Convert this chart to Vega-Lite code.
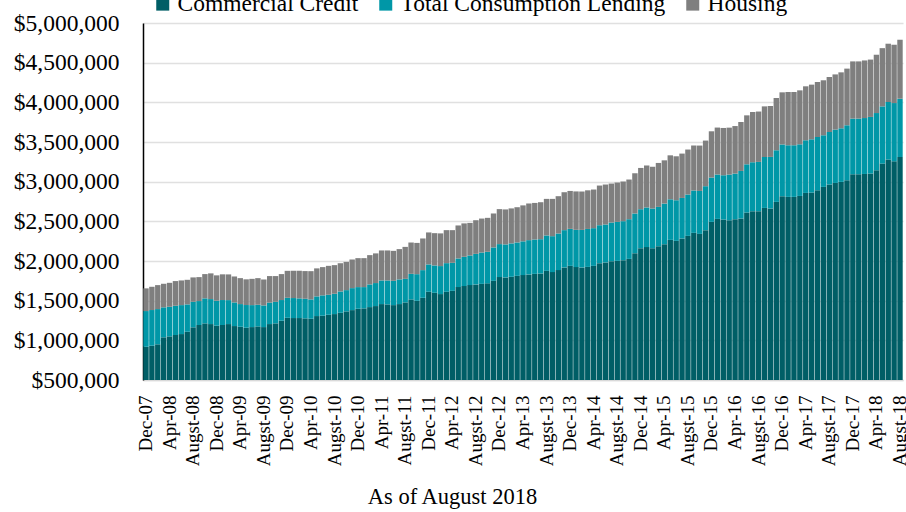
{
  "$schema": "https://vega.github.io/schema/vega-lite/v6.json",
  "width": 760,
  "height": 357,
  "autosize": {"type": "none"},
  "padding": {"left": 143, "top": 23, "right": 3, "bottom": 132},
  "background": "white",
  "config": {"view": {"stroke": null}, "font": "Liberation Serif"},
  "data": {"values": [
    {"m":"Dec-07","Commercial Credit":919000,"Total Consumption Lending":450000,"Housing":286000},
    {"m":"Jan-08","Commercial Credit":932000,"Total Consumption Lending":450000,"Housing":293000},
    {"m":"Feb-08","Commercial Credit":950000,"Total Consumption Lending":444000,"Housing":302000},
    {"m":"Mar-08","Commercial Credit":1038000,"Total Consumption Lending":378000,"Housing":297000},
    {"m":"Apr-08","Commercial Credit":1050000,"Total Consumption Lending":373000,"Housing":302000},
    {"m":"May-08","Commercial Credit":1067000,"Total Consumption Lending":369000,"Housing":311000},
    {"m":"Jun-08","Commercial Credit":1079000,"Total Consumption Lending":365000,"Housing":311000},
    {"m":"Jul-08","Commercial Credit":1108000,"Total Consumption Lending":345000,"Housing":310000},
    {"m":"Augst-08","Commercial Credit":1164000,"Total Consumption Lending":322000,"Housing":307000},
    {"m":"Sep-08","Commercial Credit":1193000,"Total Consumption Lending":302000,"Housing":302000},
    {"m":"Oct-08","Commercial Credit":1214000,"Total Consumption Lending":315000,"Housing":306000},
    {"m":"Nov-08","Commercial Credit":1205000,"Total Consumption Lending":315000,"Housing":324000},
    {"m":"Dec-08","Commercial Credit":1184000,"Total Consumption Lending":315000,"Housing":320000},
    {"m":"Jan-09","Commercial Credit":1193000,"Total Consumption Lending":315000,"Housing":324000},
    {"m":"Feb-09","Commercial Credit":1205000,"Total Consumption Lending":302000,"Housing":324000},
    {"m":"Mar-09","Commercial Credit":1180000,"Total Consumption Lending":298000,"Housing":327000},
    {"m":"Apr-09","Commercial Credit":1171000,"Total Consumption Lending":286000,"Housing":327000},
    {"m":"May-09","Commercial Credit":1159000,"Total Consumption Lending":286000,"Housing":324000},
    {"m":"Jun-09","Commercial Credit":1167000,"Total Consumption Lending":277000,"Housing":331000},
    {"m":"Jul-09","Commercial Credit":1176000,"Total Consumption Lending":272000,"Housing":336000},
    {"m":"Augst-09","Commercial Credit":1167000,"Total Consumption Lending":273000,"Housing":327000},
    {"m":"Sep-09","Commercial Credit":1205000,"Total Consumption Lending":271000,"Housing":334000},
    {"m":"Oct-09","Commercial Credit":1214000,"Total Consumption Lending":272000,"Housing":324000},
    {"m":"Nov-09","Commercial Credit":1247000,"Total Consumption Lending":261000,"Housing":327000},
    {"m":"Dec-09","Commercial Credit":1284000,"Total Consumption Lending":252000,"Housing":340000},
    {"m":"Jan-10","Commercial Credit":1281000,"Total Consumption Lending":252000,"Housing":344000},
    {"m":"Feb-10","Commercial Credit":1281000,"Total Consumption Lending":248000,"Housing":348000},
    {"m":"Mar-10","Commercial Credit":1277000,"Total Consumption Lending":247000,"Housing":349000},
    {"m":"Apr-10","Commercial Credit":1272000,"Total Consumption Lending":244000,"Housing":356000},
    {"m":"May-10","Commercial Credit":1306000,"Total Consumption Lending":248000,"Housing":353000},
    {"m":"Jun-10","Commercial Credit":1310000,"Total Consumption Lending":257000,"Housing":356000},
    {"m":"Jul-10","Commercial Credit":1322000,"Total Consumption Lending":252000,"Housing":365000},
    {"m":"Augst-10","Commercial Credit":1331000,"Total Consumption Lending":256000,"Housing":361000},
    {"m":"Sep-10","Commercial Credit":1347000,"Total Consumption Lending":269000,"Housing":356000},
    {"m":"Oct-10","Commercial Credit":1365000,"Total Consumption Lending":268000,"Housing":356000},
    {"m":"Nov-10","Commercial Credit":1381000,"Total Consumption Lending":277000,"Housing":361000},
    {"m":"Dec-10","Commercial Credit":1398000,"Total Consumption Lending":273000,"Housing":365000},
    {"m":"Jan-11","Commercial Credit":1403000,"Total Consumption Lending":268000,"Housing":365000},
    {"m":"Feb-11","Commercial Credit":1419000,"Total Consumption Lending":286000,"Housing":369000},
    {"m":"Mar-11","Commercial Credit":1432000,"Total Consumption Lending":290000,"Housing":374000},
    {"m":"Apr-11","Commercial Credit":1457000,"Total Consumption Lending":298000,"Housing":378000},
    {"m":"May-11","Commercial Credit":1453000,"Total Consumption Lending":302000,"Housing":378000},
    {"m":"Jun-11","Commercial Credit":1444000,"Total Consumption Lending":306000,"Housing":378000},
    {"m":"Jul-11","Commercial Credit":1457000,"Total Consumption Lending":311000,"Housing":382000},
    {"m":"Augst-11","Commercial Credit":1478000,"Total Consumption Lending":297000,"Housing":403000},
    {"m":"Sep-11","Commercial Credit":1516000,"Total Consumption Lending":322000,"Housing":395000},
    {"m":"Oct-11","Commercial Credit":1498000,"Total Consumption Lending":336000,"Housing":394000},
    {"m":"Nov-11","Commercial Credit":1536000,"Total Consumption Lending":349000,"Housing":399000},
    {"m":"Dec-11","Commercial Credit":1612000,"Total Consumption Lending":345000,"Housing":403000},
    {"m":"Jan-12","Commercial Credit":1599000,"Total Consumption Lending":345000,"Housing":407000},
    {"m":"Feb-12","Commercial Credit":1583000,"Total Consumption Lending":353000,"Housing":412000},
    {"m":"Mar-12","Commercial Credit":1612000,"Total Consumption Lending":361000,"Housing":416000},
    {"m":"Apr-12","Commercial Credit":1624000,"Total Consumption Lending":353000,"Housing":412000},
    {"m":"May-12","Commercial Credit":1671000,"Total Consumption Lending":361000,"Housing":416000},
    {"m":"Jun-12","Commercial Credit":1684000,"Total Consumption Lending":369000,"Housing":421000},
    {"m":"Jul-12","Commercial Credit":1696000,"Total Consumption Lending":374000,"Housing":410000},
    {"m":"Augst-12","Commercial Credit":1705000,"Total Consumption Lending":385000,"Housing":424000},
    {"m":"Sep-12","Commercial Credit":1712000,"Total Consumption Lending":395000,"Housing":428000},
    {"m":"Oct-12","Commercial Credit":1718000,"Total Consumption Lending":398000,"Housing":428000},
    {"m":"Nov-12","Commercial Credit":1750000,"Total Consumption Lending":421000,"Housing":428000},
    {"m":"Dec-12","Commercial Credit":1797000,"Total Consumption Lending":416000,"Housing":441000},
    {"m":"Jan-13","Commercial Credit":1793000,"Total Consumption Lending":416000,"Housing":441000},
    {"m":"Feb-13","Commercial Credit":1801000,"Total Consumption Lending":421000,"Housing":441000},
    {"m":"Mar-13","Commercial Credit":1813000,"Total Consumption Lending":421000,"Housing":444000},
    {"m":"Apr-13","Commercial Credit":1822000,"Total Consumption Lending":426000,"Housing":453000},
    {"m":"May-13","Commercial Credit":1831000,"Total Consumption Lending":432000,"Housing":462000},
    {"m":"Jun-13","Commercial Credit":1838000,"Total Consumption Lending":433000,"Housing":461000},
    {"m":"Jul-13","Commercial Credit":1843000,"Total Consumption Lending":432000,"Housing":466000},
    {"m":"Augst-13","Commercial Credit":1876000,"Total Consumption Lending":446000,"Housing":461000},
    {"m":"Sep-13","Commercial Credit":1860000,"Total Consumption Lending":453000,"Housing":470000},
    {"m":"Oct-13","Commercial Credit":1885000,"Total Consumption Lending":462000,"Housing":470000},
    {"m":"Nov-13","Commercial Credit":1919000,"Total Consumption Lending":470000,"Housing":478000},
    {"m":"Dec-13","Commercial Credit":1939000,"Total Consumption Lending":466000,"Housing":478000},
    {"m":"Jan-14","Commercial Credit":1923000,"Total Consumption Lending":470000,"Housing":484000},
    {"m":"Feb-14","Commercial Credit":1919000,"Total Consumption Lending":473000,"Housing":484000},
    {"m":"Mar-14","Commercial Credit":1926000,"Total Consumption Lending":478000,"Housing":487000},
    {"m":"Apr-14","Commercial Credit":1939000,"Total Consumption Lending":475000,"Housing":487000},
    {"m":"May-14","Commercial Credit":1973000,"Total Consumption Lending":478000,"Housing":500000},
    {"m":"Jun-14","Commercial Credit":1982000,"Total Consumption Lending":478000,"Housing":504000},
    {"m":"Jul-14","Commercial Credit":1998000,"Total Consumption Lending":487000,"Housing":491000},
    {"m":"Augst-14","Commercial Credit":2002000,"Total Consumption Lending":491000,"Housing":496000},
    {"m":"Sep-14","Commercial Credit":2011000,"Total Consumption Lending":491000,"Housing":500000},
    {"m":"Oct-14","Commercial Credit":2027000,"Total Consumption Lending":500000,"Housing":500000},
    {"m":"Nov-14","Commercial Credit":2099000,"Total Consumption Lending":500000,"Housing":507000},
    {"m":"Dec-14","Commercial Credit":2162000,"Total Consumption Lending":491000,"Housing":520000},
    {"m":"Jan-15","Commercial Credit":2175000,"Total Consumption Lending":500000,"Housing":529000},
    {"m":"Feb-15","Commercial Credit":2162000,"Total Consumption Lending":500000,"Housing":526000},
    {"m":"Mar-15","Commercial Credit":2187000,"Total Consumption Lending":495000,"Housing":554000},
    {"m":"Apr-15","Commercial Credit":2212000,"Total Consumption Lending":512000,"Housing":545000},
    {"m":"May-15","Commercial Credit":2266000,"Total Consumption Lending":512000,"Housing":554000},
    {"m":"Jun-15","Commercial Credit":2254000,"Total Consumption Lending":512000,"Housing":554000},
    {"m":"Jul-15","Commercial Credit":2284000,"Total Consumption Lending":511000,"Housing":559000},
    {"m":"Augst-15","Commercial Credit":2317000,"Total Consumption Lending":521000,"Housing":567000},
    {"m":"Sep-15","Commercial Credit":2355000,"Total Consumption Lending":534000,"Housing":567000},
    {"m":"Oct-15","Commercial Credit":2342000,"Total Consumption Lending":541000,"Housing":572000},
    {"m":"Nov-15","Commercial Credit":2389000,"Total Consumption Lending":554000,"Housing":575000},
    {"m":"Dec-15","Commercial Credit":2493000,"Total Consumption Lending":559000,"Housing":583000},
    {"m":"Jan-16","Commercial Credit":2531000,"Total Consumption Lending":559000,"Housing":592000},
    {"m":"Feb-16","Commercial Credit":2523000,"Total Consumption Lending":558000,"Housing":596000},
    {"m":"Mar-16","Commercial Credit":2514000,"Total Consumption Lending":575000,"Housing":592000},
    {"m":"Apr-16","Commercial Credit":2527000,"Total Consumption Lending":575000,"Housing":599000},
    {"m":"May-16","Commercial Credit":2536000,"Total Consumption Lending":599000,"Housing":617000},
    {"m":"Jun-16","Commercial Credit":2611000,"Total Consumption Lending":608000,"Housing":617000},
    {"m":"Jul-16","Commercial Credit":2628000,"Total Consumption Lending":617000,"Housing":633000},
    {"m":"Augst-16","Commercial Credit":2628000,"Total Consumption Lending":621000,"Housing":635000},
    {"m":"Sep-16","Commercial Credit":2669000,"Total Consumption Lending":642000,"Housing":638000},
    {"m":"Oct-16","Commercial Credit":2662000,"Total Consumption Lending":650000,"Housing":642000},
    {"m":"Nov-16","Commercial Credit":2745000,"Total Consumption Lending":651000,"Housing":659000},
    {"m":"Dec-16","Commercial Credit":2817000,"Total Consumption Lending":652000,"Housing":657000},
    {"m":"Jan-17","Commercial Credit":2808000,"Total Consumption Lending":651000,"Housing":671000},
    {"m":"Feb-17","Commercial Credit":2808000,"Total Consumption Lending":651000,"Housing":671000},
    {"m":"Mar-17","Commercial Credit":2820000,"Total Consumption Lending":651000,"Housing":680000},
    {"m":"Apr-17","Commercial Credit":2858000,"Total Consumption Lending":664000,"Housing":680000},
    {"m":"May-17","Commercial Credit":2863000,"Total Consumption Lending":671000,"Housing":689000},
    {"m":"Jun-17","Commercial Credit":2892000,"Total Consumption Lending":671000,"Housing":693000},
    {"m":"Jul-17","Commercial Credit":2934000,"Total Consumption Lending":651000,"Housing":693000},
    {"m":"Augst-17","Commercial Credit":2964000,"Total Consumption Lending":662000,"Housing":693000},
    {"m":"Sep-17","Commercial Credit":2984000,"Total Consumption Lending":672000,"Housing":696000},
    {"m":"Oct-17","Commercial Credit":2997000,"Total Consumption Lending":676000,"Housing":705000},
    {"m":"Nov-17","Commercial Credit":3018000,"Total Consumption Lending":693000,"Housing":714000},
    {"m":"Dec-17","Commercial Credit":3094000,"Total Consumption Lending":701000,"Housing":721000},
    {"m":"Jan-18","Commercial Credit":3094000,"Total Consumption Lending":701000,"Housing":721000},
    {"m":"Feb-18","Commercial Credit":3097000,"Total Consumption Lending":705000,"Housing":726000},
    {"m":"Mar-18","Commercial Credit":3103000,"Total Consumption Lending":713000,"Housing":723000},
    {"m":"Apr-18","Commercial Credit":3144000,"Total Consumption Lending":721000,"Housing":735000},
    {"m":"May-18","Commercial Credit":3228000,"Total Consumption Lending":721000,"Housing":734000},
    {"m":"Jun-18","Commercial Credit":3279000,"Total Consumption Lending":725000,"Housing":735000},
    {"m":"Jul-18","Commercial Credit":3257000,"Total Consumption Lending":734000,"Housing":735000},
    {"m":"Augst-18","Commercial Credit":3311000,"Total Consumption Lending":735000,"Housing":743000}
  ]},
  "transform": [
    {"fold": ["Commercial Credit", "Total Consumption Lending", "Housing"], "as": ["series", "value"]},
    {"lookup": "series", "from": {"data": {"values": [
      {"series": "Commercial Credit", "rank": 1},
      {"series": "Total Consumption Lending", "rank": 2},
      {"series": "Housing", "rank": 3}
    ]}, "key": "series", "fields": ["rank"]}}
  ],
  "mark": {"type": "bar", "clip": true},
  "encoding": {
    "x": {
      "field": "m", "type": "nominal", "sort": null,
      "scale": {"paddingInner": 0.08, "paddingOuter": 0.05},
      "axis": {
        "values": ["Dec-07","Apr-08","Augst-08","Dec-08","Apr-09","Augst-09","Dec-09","Apr-10","Augst-10","Dec-10","Apr-11","Augst-11","Dec-11","Apr-12","Augst-12","Dec-12","Apr-13","Augst-13","Dec-13","Apr-14","Augst-14","Dec-14","Apr-15","Augst-15","Dec-15","Apr-16","Augst-16","Dec-16","Apr-17","Augst-17","Dec-17","Apr-18","Augst-18"],
        "labelAngle": 270, "labelFontSize": 19, "labelColor": "#000000",
        "labelPadding": 15, "ticks": false, "tickSize": 0,
        "labelOverlap": false, "labelBound": false, "labelFlush": false,
        "domainColor": "#d9d9d9", "domainWidth": 1.5, "grid": false,
        "title": "As of August 2018", "titleFontSize": 22.5, "titleFontWeight": "normal",
        "titleColor": "#000000", "titleX": 309, "titleY": 123,
        "titleAlign": "center", "titleBaseline": "alphabetic", "titleAnchor": null
      }
    },
    "y": {
      "field": "value", "type": "quantitative", "stack": "zero",
      "scale": {"domain": [500000, 5000000], "nice": false, "zero": false},
      "axis": {
        "values": [500000, 1000000, 1500000, 2000000, 2500000, 3000000, 3500000, 4000000, 4500000, 5000000],
        "format": "$,.0f", "labelFontSize": 23.5, "labelColor": "#000000",
        "labelPadding": 24, "ticks": false, "tickSize": 0,
        "domainColor": "#000000", "domainWidth": 1.5,
        "grid": true, "gridColor": "#e0e0e0", "gridWidth": 1.5,
        "title": null
      }
    },
    "order": {"field": "rank", "type": "quantitative", "sort": "ascending"},
    "color": {
      "field": "series", "type": "nominal",
      "sort": ["Commercial Credit", "Total Consumption Lending", "Housing"],
      "scale": {
        "domain": ["Commercial Credit", "Total Consumption Lending", "Housing"],
        "range": ["#005e66", "#0097a7", "#7f7f7f"]
      },
      "legend": {
        "orient": "none", "legendX": 8, "legendY": -31,
        "direction": "horizontal", "title": null,
        "symbolType": "square", "symbolSize": 169, "symbolStrokeWidth": 0,
        "symbolOpacity": 1,
        "labelFontSize": 23.5, "labelColor": "#000000", "labelOffset": 3,
        "columnPadding": 15, "padding": 0, "labelLimit": 400
      }
    }
  }
}
